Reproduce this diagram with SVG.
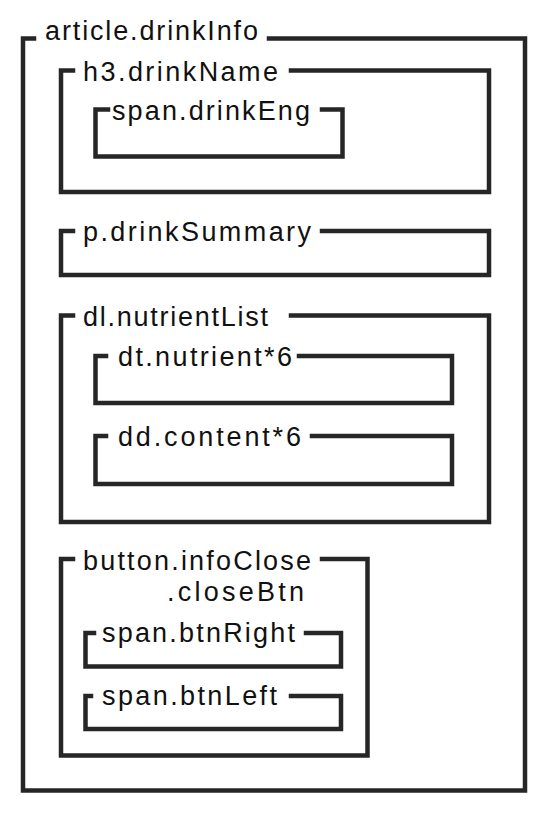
<svg xmlns="http://www.w3.org/2000/svg" width="548" height="817" viewBox="0 0 548 817">
<style>
.b{fill:none;stroke:#262626;stroke-width:4.5;stroke-linecap:square;stroke-linejoin:miter}
.t{font-family:"Liberation Sans",Arial,sans-serif;font-size:27px;fill:#111}
</style>
<rect width="548" height="817" fill="#fff"/>
<g id="article">
<path class="b" d="M34,38.5 H23 V790.5 H525 V38.5 H269"/>
<text class="t" x="45" y="40" textLength="213" lengthAdjust="spacing">article.drinkInfo</text>
</g>
<g id="h3">
<path class="b" d="M73,70.5 H61 V192 H489 V70.5 H291"/>
<text class="t" x="83" y="80.5" textLength="195" lengthAdjust="spacing">h3.drinkName</text>
</g>
<g id="spanEng">
<path class="b" d="M108,109.5 H95.5 V156.5 H342.5 V109.5 H322"/>
<text class="t" x="112" y="119.5" textLength="198" lengthAdjust="spacing">span.drinkEng</text>
</g>
<g id="p">
<path class="b" d="M73,231 H61 V275 H489 V231 H322"/>
<text class="t" x="83" y="241" textLength="228" lengthAdjust="spacing">p.drinkSummary</text>
</g>
<g id="dl">
<path class="b" d="M73,315.5 H61 V522 H489 V315.5 H291"/>
<text class="t" x="83" y="325.5" textLength="185" lengthAdjust="spacing">dl.nutrientList</text>
</g>
<g id="dt">
<path class="b" d="M106,356 H95.5 V403 H452 V356 H299"/>
<text class="t" x="118" y="366" textLength="174" lengthAdjust="spacing">dt.nutrient*6</text>
</g>
<g id="dd">
<path class="b" d="M106,436 H95.5 V484 H452 V436 H312"/>
<text class="t" x="118" y="446" textLength="183" lengthAdjust="spacing">dd.content*6</text>
</g>
<g id="button">
<path class="b" d="M73,559 H61 V755.5 H367.5 V559 H322"/>
<text class="t" x="83" y="569.5" textLength="228" lengthAdjust="spacing">button.infoClose</text>
<text class="t" x="167" y="601" textLength="137" lengthAdjust="spacing">.closeBtn</text>
</g>
<g id="btnRight">
<path class="b" d="M94,633 H85.5 V666.5 H341 V633 H306"/>
<text class="t" x="102" y="642" textLength="193" lengthAdjust="spacing">span.btnRight</text>
</g>
<g id="btnLeft">
<path class="b" d="M91,696 H85.5 V729 H341 V696 H291"/>
<text class="t" x="102" y="705" textLength="175" lengthAdjust="spacing">span.btnLeft</text>
</g>
<g id="connectors"/>
</svg>
